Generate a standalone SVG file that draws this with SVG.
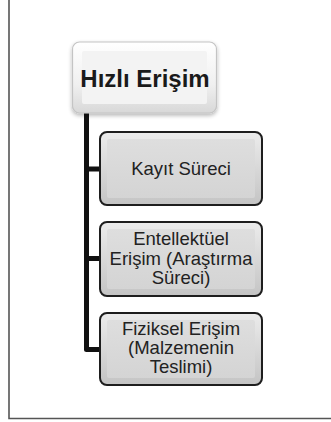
<svg xmlns="http://www.w3.org/2000/svg" width="331" height="422" viewBox="0 0 331 422">
<defs>
<linearGradient id="gTop" x1="0" y1="0" x2="0" y2="1">
<stop offset="0" stop-color="#ffffff"/><stop offset="0.6" stop-color="#f0f0f0"/><stop offset="1" stop-color="#d8d8d8"/>
</linearGradient>
<linearGradient id="gChild" x1="0" y1="0" x2="0" y2="1">
<stop offset="0" stop-color="#ececec"/><stop offset="1" stop-color="#c4c4c4"/>
</linearGradient>
<linearGradient id="gInner" x1="0" y1="0" x2="0" y2="1">
<stop offset="0" stop-color="#dedede"/><stop offset="1" stop-color="#d4d4d4"/>
</linearGradient>
<filter id="sh" x="-10%" y="-10%" width="120%" height="125%">
<feGaussianBlur in="SourceAlpha" stdDeviation="2"/>
<feOffset dx="0" dy="2"/>
<feComponentTransfer><feFuncA type="linear" slope="0.3"/></feComponentTransfer>
<feMerge><feMergeNode/><feMergeNode in="SourceGraphic"/></feMerge>
</filter>
</defs>
<style>
.frame{stroke:#555;stroke-width:1.6;fill:none}
.conn{stroke:#111;stroke-width:5;fill:none;stroke-linejoin:round}
.child{fill:url(#gChild);stroke:#1e1e1e;stroke-width:2}
.inner{fill:url(#gInner);stroke:none}
.top{fill:url(#gTop);stroke:#c4c4c4;stroke-width:1.2}
.topin{fill:#f3f3f3;stroke:none}
.t1{font-family:"Liberation Sans",Arial,sans-serif;font-weight:bold;font-size:24px;fill:#1a1a1a;text-anchor:middle}
.t2{font-family:"Liberation Sans",Arial,sans-serif;font-size:18.5px;fill:#222;text-anchor:middle}
</style>
<rect width="331" height="422" fill="#fff"/>
<path class="frame" d="M9,0 V418.5 H331"/>
<g id="connectors">
<path class="conn" d="M86.5,113 V349.5 H101"/>
<path class="conn" d="M86.5,169 H101"/>
<path class="conn" d="M86.5,258.5 H101"/>
</g>
<g id="node-hizli">
<rect class="top" x="72.5" y="42" width="144" height="71" rx="7" filter="url(#sh)"/>
<rect class="topin" x="82" y="51" width="125" height="53" rx="2"/>
<text class="t1" x="145" y="87">Hızlı Erişim</text>
</g>
<g id="node-kayit">
<rect class="child" x="100" y="132" width="162" height="73" rx="7"/>
<rect class="inner" x="107" y="139" width="148" height="59" rx="2"/>
<text class="t2" x="181" y="175">Kayıt Süreci</text>
</g>
<g id="node-entellektuel">
<rect class="child" x="100" y="222" width="162" height="74" rx="7"/>
<rect class="inner" x="107" y="229" width="148" height="60" rx="2"/>
<text class="t2" x="181" y="245">Entellektüel</text>
<text class="t2" x="181" y="264.5">Erişim (Araştırma</text>
<text class="t2" x="181" y="284">Süreci)</text>
</g>
<g id="node-fiziksel">
<rect class="child" x="100" y="313" width="162" height="72" rx="7"/>
<rect class="inner" x="107" y="320" width="148" height="58" rx="2"/>
<text class="t2" x="181" y="334.5">Fiziksel Erişim</text>
<text class="t2" x="181" y="353.5">(Malzemenin</text>
<text class="t2" x="181" y="372.5">Teslimi)</text>
</g>
</svg>
